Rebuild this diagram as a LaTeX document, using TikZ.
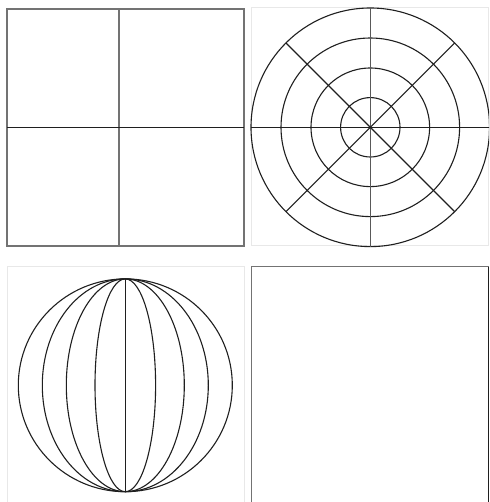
\documentclass[tikz,border=0pt]{standalone}
\begin{document}
\begin{tikzpicture}[x=1pt,y=-1pt,
  frameline/.style={draw=black!55,line width=1.2pt},
  darkline/.style={draw=black!88,line width=1.1pt},
  lightframe/.style={draw=black!9,line width=1pt}]
\useasboundingbox (0,0) rectangle (489,502);
\clip (0,0) rectangle (489,502);
\fill[white] (0,0) rectangle (489,502);
% panel 1: quadrants
\draw[frameline] (7,9) rectangle (244,246);
\draw[frameline] (119,9) -- (119,246);
\draw[darkline] (7,127.3) -- (244,127.3);
% panel 2: polar grid
\draw[lightframe] (251,8) rectangle (488.5,245.5);
\begin{scope}[shift={(370.3,127.3)}]
  \foreach \r in {29.7,59.3,89.3,119.3} \draw[darkline] (0,0) circle[radius=\r];
  \draw[darkline] (-119.3,0) -- (119.3,0);
  \draw[frameline,draw=black!65] (0,-119.3) -- (0,119.3);
  \draw[darkline] (135:119.3) -- (-45:119.3);
  \draw[darkline] (45:119.3) -- (-135:119.3);
\end{scope}
% panel 3: globe meridians
\draw[lightframe] (7,266.7) rectangle (244,510);
\begin{scope}[shift={(125.3,385.3)}]
  \foreach \rx in {107,83,59,30.3} \draw[darkline] (0,0) ellipse[x radius=\rx, y radius=106.4];
  \draw[darkline] (0,-106.4) -- (0,106.4);
\end{scope}
% panel 4: empty box
\draw[frameline] (251.3,510) -- (251.3,266.7) -- (488.5,266.7);
\draw[darkline] (488.5,266.7) -- (488.5,510);
\end{tikzpicture}
\end{document}
